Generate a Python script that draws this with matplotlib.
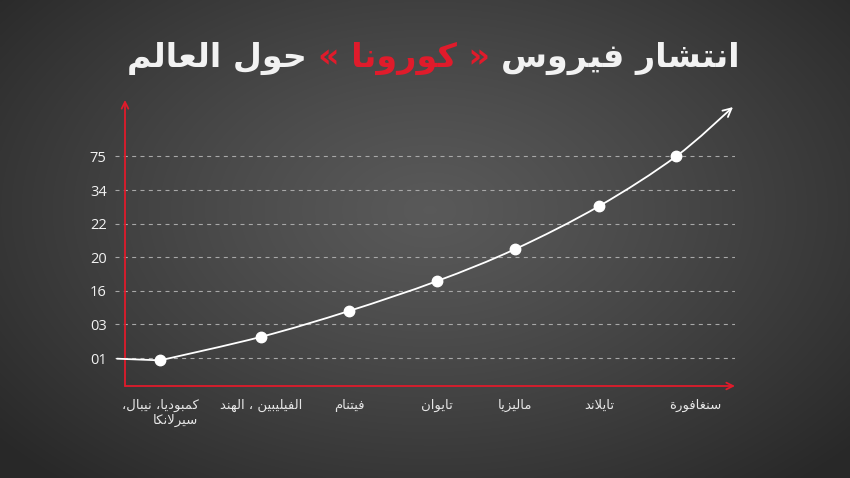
import numpy as np
import matplotlib
matplotlib.use("Agg")
import matplotlib.pyplot as plt
from matplotlib.path import Path
from matplotlib.patches import FancyArrowPatch

# --------------------------------------------------
# Data
# --------------------------------------------------
y_labels = ["01", "03", "16", "20", "22", "34", "75"]
countries = ["كمبوديا، نيبال،\nسيرلانكا", "الفيليبين ، الهند", "فيتنام",
             "تايوان", "ماليزيا", "تايلاند", "سنغافورة"]
point_x = [0.45, 1.46, 2.34, 3.22, 4.00, 4.84, 5.61]
point_y = [-0.07, 0.63, 1.40, 2.29, 3.24, 4.52, 6.00]
curve_start = (0.02, -0.02)
curve_end = (6.18, 7.47)

title_right = "انتشار فيروس"
title_mid = "كورونا"
title_left = "حول العالم"

RED = "#e01b2b"
WHITE = "#f2f2f2"

# --------------------------------------------------
# Small Arabic shaper (presentation forms, right to left)
# --------------------------------------------------
DUAL = {'ب': 0xFE8F, 'ت': 0xFE95, 'ح': 0xFEA1, 'س': 0xFEB1, 'ش': 0xFEB5,
        'ط': 0xFEC1, 'ع': 0xFEC9, 'غ': 0xFECD, 'ف': 0xFED1, 'ك': 0xFED9,
        'ل': 0xFEDD, 'م': 0xFEE1, 'ن': 0xFEE5, 'ه': 0xFEE9, 'ي': 0xFEF1}
RIGHT = {'ا': 0xFE8D, 'د': 0xFEA9, 'ر': 0xFEAD, 'ز': 0xFEAF, 'و': 0xFEED,
         'ة': 0xFE93, 'LA': 0xFEFB}


def shape_line(text):
    units = []
    i = 0
    while i < len(text):
        if text[i] == 'ل' and i + 1 < len(text) and text[i + 1] == 'ا':
            units.append('LA')
            i += 2
        else:
            units.append(text[i])
            i += 1
    out = []
    for k, u in enumerate(units):
        prev = units[k - 1] if k > 0 else None
        nxt = units[k + 1] if k + 1 < len(units) else None
        if u in DUAL:
            jp = prev in DUAL
            jn = nxt in DUAL or nxt in RIGHT
            form = 3 if (jp and jn) else 1 if jp else 2 if jn else 0
            out.append(chr(DUAL[u] + form))
        elif u in RIGHT:
            form = 1 if prev in DUAL else 0
            out.append(chr(RIGHT[u] + form))
        else:
            out.append(u)
    return "".join(reversed(out))


def shape(text):
    return "\n".join(shape_line(t) for t in text.split("\n"))


# --------------------------------------------------
# Figure + background
# --------------------------------------------------
fig = plt.figure(figsize=(8.5, 4.78), dpi=100)

bg = fig.add_axes([0, 0, 1, 1], zorder=0)
gx, gy = np.meshgrid(np.linspace(0, 850, 425), np.linspace(0, 478, 239))
d = np.sqrt(((gx - 430) / 560) ** 2 + ((gy - 210) / 360) ** 2)
d = np.clip(d, 0, 1) ** 1.2
center, edge = np.array([0.35, 0.35, 0.35]), np.array([0.16, 0.16, 0.16])
grad = center[None, None, :] * (1 - d[..., None]) + edge[None, None, :] * d[..., None]
bg.imshow(grad, extent=(0, 850, 478, 0), aspect="auto", interpolation="bilinear")
bg.axis("off")

# --------------------------------------------------
# Main axes
# --------------------------------------------------
ax = fig.add_axes([115 / 850, 1 - 386 / 478, 620 / 850, 286 / 478], zorder=1)
ax.set_facecolor("none")
ax.set_xlim(0, 6.2)
ax.set_ylim(-0.833, 7.68)
for s in ax.spines.values():
    s.set_visible(False)

# dashed grid
for k in range(len(y_labels)):
    ax.axhline(k, color="#a8a8a8", lw=0.8, dashes=(3.6, 3.9), zorder=1)

ax.set_yticks(range(len(y_labels)), y_labels)
ax.tick_params(axis="y", length=0, pad=6, labelcolor=WHITE, labelsize=10.5)
for t in ax.get_yticklabels():
    t.set_fontfamily("Open Sans")
ax.set_xticks([])

# country labels under the points (last one sits a bit further right)
for i, (x, name) in enumerate(zip(point_x, countries)):
    dx = 14 if i == len(countries) - 1 else 0
    ax.annotate(shape(name), xy=(x, 0), xycoords=("data", "axes fraction"),
                xytext=(dx, -9), textcoords="offset points",
                ha="center", va="top", multialignment="right",
                color="#e6e6e6", fontsize=9.5, family="DejaVu Sans",
                annotation_clip=False)

# red axes with arrows
ax.annotate("", xy=(0.1, 7.68), xytext=(0.1, -0.833),
            arrowprops=dict(arrowstyle="->", color=RED, lw=1.3,
                            shrinkA=0, shrinkB=0, mutation_scale=12),
            annotation_clip=False, zorder=3)
ax.annotate("", xy=(6.2, -0.833), xytext=(0.1, -0.833),
            arrowprops=dict(arrowstyle="->", color=RED, lw=1.3,
                            shrinkA=0, shrinkB=0, mutation_scale=12),
            annotation_clip=False, zorder=3)

# white curve: flat lead-in, then smooth (Catmull-Rom as bezier) through the points
pts = np.array(list(zip(point_x, point_y)) + [curve_end])
ext = np.vstack([pts[0], pts, pts[-1]])
verts = [curve_start, pts[0]]
codes = [Path.MOVETO, Path.LINETO]
for i in range(1, len(ext) - 2):
    p0, p1, p2, p3 = ext[i - 1], ext[i], ext[i + 1], ext[i + 2]
    c1 = p1 + (p2 - p0) / 6
    c2 = p2 - (p3 - p1) / 6
    verts += [c1, c2, p2]
    codes += [Path.CURVE4] * 3
curve = FancyArrowPatch(path=Path(verts, codes), arrowstyle="->",
                        mutation_scale=15, color="white", lw=1.3, zorder=4)
ax.add_patch(curve)

ax.plot(point_x, point_y, "o", color="white", ms=7.5, zorder=5, clip_on=False)

# --------------------------------------------------
# Title (three parts, middle one red)
# --------------------------------------------------
tsize = 24
mid = fig.text(404 / 850, 1 - 58 / 478, "« " + shape(title_mid) + " »",
               color=RED, fontsize=tsize, fontweight="bold",
               family="DejaVu Sans", ha="center", va="center")
ax.annotate(shape(title_left), xy=(0, 0.5), xycoords=mid, xytext=(-8, 0),
            textcoords="offset points", ha="right", va="center",
            color=WHITE, fontsize=tsize, fontweight="bold", family="DejaVu Sans",
            annotation_clip=False)
ax.annotate(shape(title_right), xy=(1, 0.5), xycoords=mid, xytext=(8, 0),
            textcoords="offset points", ha="left", va="center",
            color=WHITE, fontsize=tsize, fontweight="bold", family="DejaVu Sans",
            annotation_clip=False)

fig.savefig("out.png", dpi=100)
